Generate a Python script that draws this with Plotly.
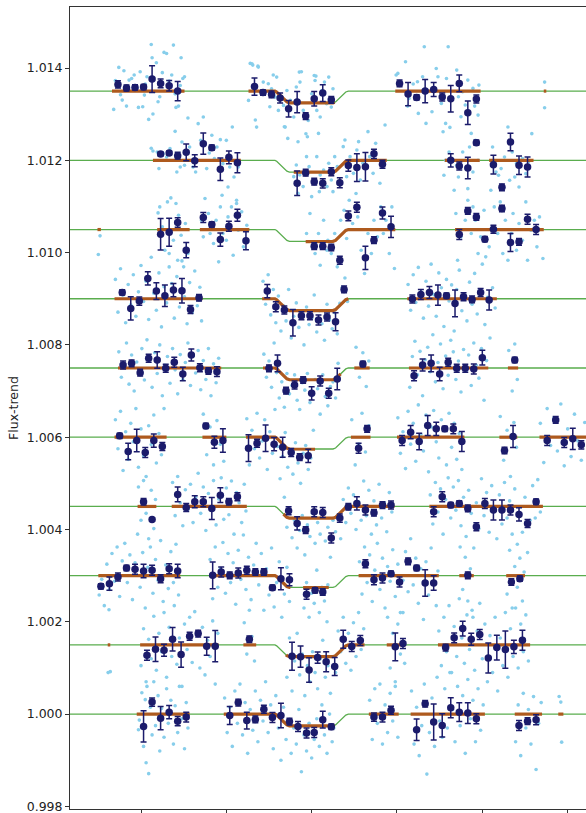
import numpy as np
import plotly.graph_objects as go

# Stacked transit light curves: each epoch is shifted by a constant flux offset.
# Times are hours from mid-transit; flux values are ppm relative to each epoch's baseline.

BASELINES = [1.0135, 1.0120, 1.0105, 1.0090, 1.0075, 1.0060, 1.0045, 1.0030, 1.0015, 1.0000]

# Transit model (ppm) sampled at its vertices
MODEL_T = [-3.0, -0.43, -0.41, -0.29, -0.26, 0.0, 0.25, 0.28, 0.40, 0.43, 3.4]
MODEL_PPM = [0, 0, -20, -235, -255, -262, -255, -235, -20, 0, 0]

# Binned points: (time, ppm, error ppm)
BINS1 = [(-2.27, 145, 80), (-2.17, 65, 65), (-2.07, 80, 58), (-1.97, 87, 58), (-1.87, 260, 290),
         (-1.77, 166, 94), (-1.67, 116, 116), (-1.57, 0, 210),
         (-0.67, 98, 188), (-0.57, -33, 58), (-0.47, -72, 72), (-0.37, -150, 108), (-0.27, -383, 180),
         (-0.17, -238, 231), (-0.07, -541, 72), (0.03, -166, 159), (0.13, -43, 180), (0.23, -190, 72),
         (1.03, 166, 72), (1.13, -65, 253), (1.23, -137, 58), (1.33, 0, 253), (1.43, 36, 152),
         (1.53, -130, 87), (1.63, -166, 289), (1.73, 166, 180), (1.83, -469, 253), (1.93, -173, 87)]
BINS2 = [(-1.77, 137, 43), (-1.67, 159, 43), (-1.57, 101, 72), (-1.47, 173, 180), (-1.37, -7, 130),
         (-1.27, 361, 231), (-1.17, 274, 58), (-1.07, -195, 245), (-0.97, 65, 137), (-0.87, -51, 217),
         (-0.17, -498, 267), (-0.07, -267, 72), (0.03, -462, 72), (0.13, -498, 100), (0.23, -250, 87),
         (0.33, -488, 108), (0.43, -115, 123), (0.53, -158, 300), (0.63, -140, 310), (0.73, 140, 100),
         (0.83, -85, 87),
         (1.63, 0, 144), (1.73, -123, 87), (1.83, -166, 231), (1.93, 383, 58),
         (2.13, -94, 202), (2.23, -585, 72), (2.33, 397, 188), (2.43, -108, 202), (2.53, -144, 217)]
BINS3 = [(-1.77, -101, 340), (-1.67, -58, 303), (-1.57, 152, 101), (-1.47, -448, 166),
         (-1.27, 260, 108), (-1.17, 108, 58), (-1.07, -217, 144), (-0.97, 72, 108), (-0.87, 310, 130),
         (-0.77, -245, 195),
         (0.03, -361, 72), (0.13, -361, 72), (0.23, -390, 72), (0.33, -664, 87), (0.43, 296, 108),
         (0.53, 484, 108), (0.63, -614, 253), (0.73, -231, 72), (0.83, 361, 130), (0.93, 58, 231),
         (1.73, -108, 108), (1.83, 404, 72), (1.93, 274, 72), (2.03, -209, 58), (2.13, 7, 87),
         (2.23, 455, 72), (2.33, -282, 195), (2.43, -267, 72), (2.53, 224, 108), (2.63, 0, 108)]
BINS4 = [(-2.22, 137, 58), (-2.12, -209, 253), (-2.02, -51, 87), (-1.92, 440, 144), (-1.82, 166, 180),
         (-1.72, 65, 231), (-1.62, 188, 144), (-1.52, 173, 267), (-1.42, -231, 87), (-1.32, 22, 72),
         (-0.52, 166, 144), (-0.42, -173, 108), (-0.32, -245, 87), (-0.22, -520, 289), (-0.12, -368, 87),
         (-0.02, -368, 87), (0.08, -462, 108), (0.18, -397, 87), (0.28, -498, 195), (0.38, 202, 72),
         (1.18, -7, 87), (1.28, 94, 108), (1.38, 137, 130), (1.48, 79, 217), (1.58, 65, 58),
         (1.68, -101, 289), (1.78, 43, 87), (1.88, -14, 72), (1.98, 137, 87), (2.08, -29, 217)]
BINS5 = [(-2.21, 65, 87), (-2.11, 101, 72), (-2.01, -101, 72), (-1.91, 209, 87), (-1.81, 173, 180),
         (-1.71, -7, 87), (-1.61, 123, 108), (-1.51, -130, 144), (-1.41, 282, 130), (-1.31, 7, 87),
         (-1.21, -65, 72), (-1.11, -79, 108),
         (-0.50, -7, 72), (-0.40, 101, 180), (-0.30, -491, 72), (-0.20, -368, 87), (-0.10, -260, 72),
         (0.00, -549, 144), (0.10, -282, 108), (0.20, -549, 108), (0.30, -238, 231),
         (0.60, 87, 58),
         (1.20, -166, 108), (1.30, 65, 130), (1.40, 101, 180), (1.50, -130, 144), (1.60, 123, 87),
         (1.70, -7, 87), (1.80, -7, 87), (1.90, -22, 108), (2.00, 224, 159),
         (2.38, 173, 58)]
BINS6 = [(-2.25, 29, 58), (-2.15, -310, 180), (-2.05, -72, 245), (-1.95, -332, 108), (-1.85, -72, 144),
         (-1.75, -202, 87),
         (-1.24, 245, 58), (-1.14, -108, 130), (-1.04, -72, 253),
         (-0.74, -238, 289), (-0.64, -130, 87), (-0.54, -22, 289), (-0.44, -152, 144), (-0.34, -217, 217),
         (-0.24, -332, 87), (-0.14, -433, 72), (-0.04, -404, 144),
         (0.55, -238, 108), (0.65, 181, 72),
         (1.06, -72, 108), (1.16, 108, 144), (1.26, -94, 180), (1.36, 253, 217), (1.46, 181, 144),
         (1.56, 181, 58), (1.66, 181, 108), (1.76, -94, 217),
         (2.26, -289, 72), (2.36, 14, 238),
         (2.76, -72, 108), (2.86, 375, 72), (2.96, -116, 108), (3.06, -36, 231), (3.16, -166, 87)]
BINS7 = [(-1.97, 101, 72), (-1.87, -282, 36),
         (-1.57, 260, 159), (-1.47, -22, 87), (-1.37, 101, 130), (-1.27, 101, 108), (-1.17, -43, 238),
         (-1.07, 245, 159), (-0.97, 101, 72), (-0.87, 209, 87),
         (-0.27, -94, 87), (-0.17, -368, 144), (-0.07, -513, 72), (0.03, -116, 108), (0.13, -130, 108),
         (0.23, -686, 108), (0.33, -253, 87), (0.43, -7, 72), (0.53, 65, 144), (0.63, -79, 108),
         (0.73, -137, 72), (0.83, 29, 72), (0.93, 29, 87),
         (1.43, -116, 108), (1.53, 209, 108), (1.63, 29, 58), (1.73, 65, 58), (1.83, -43, 72),
         (1.93, -440, 87), (2.03, 65, 108), (2.13, -79, 217), (2.23, -79, 217), (2.33, -79, 108),
         (2.43, -173, 144), (2.53, -368, 87), (2.63, 101, 58)]
BINS8 = [(-2.47, -231, 58), (-2.37, -173, 144), (-2.27, -29, 87), (-2.17, 166, 58), (-2.07, 137, 108),
         (-1.97, 101, 144), (-1.87, 116, 108), (-1.77, -65, 87), (-1.67, 152, 108), (-1.57, 101, 144),
         (-1.16, 7, 289), (-1.06, 79, 108), (-0.96, 7, 72), (-0.86, 58, 108), (-0.76, 116, 87),
         (-0.66, 79, 72), (-0.56, 79, 72), (-0.46, -260, 58), (-0.36, -65, 238), (-0.26, -87, 130),
         (-0.06, -404, 108), (0.04, -318, 58), (0.13, -354, 72),
         (0.63, 260, 87), (0.73, -87, 108), (0.83, -51, 108), (0.93, 43, 58), (1.03, -137, 108),
         (1.13, 310, 72), (1.23, 166, 58), (1.33, -159, 289), (1.43, -159, 159),
         (1.83, 7, 72),
         (2.34, -137, 72), (2.44, -65, 58)]
BINS9 = [(-1.93, -224, 108), (-1.83, -94, 267), (-1.73, -116, 130), (-1.63, 123, 253), (-1.53, -209, 274),
         (-1.43, 188, 87), (-1.33, 245, 72), (-1.23, -29, 195), (-1.13, -29, 339),
         (-0.73, 123, 72),
         (-0.23, -248, 303), (-0.13, -255, 231), (-0.03, -545, 267), (0.07, -275, 123), (0.17, -365, 217),
         (0.27, -469, 195), (0.37, 123, 195), (0.47, -36, 108), (0.57, 94, 108),
         (0.98, -43, 303), (1.07, 29, 108),
         (1.57, -58, 72), (1.67, 152, 108), (1.77, 354, 159), (1.87, 123, 130), (1.97, 224, 108),
         (2.07, -282, 325), (2.17, -58, 267), (2.27, -101, 404), (2.37, -43, 144), (2.47, 101, 217)]
BINS10 = [(-1.97, -267, 339), (-1.87, 260, 87), (-1.77, -87, 253), (-1.67, 43, 144), (-1.57, -152, 101),
          (-1.47, -65, 108),
          (-0.96, -30, 195), (-0.86, 250, 72), (-0.76, -140, 180), (-0.66, -115, 72), (-0.56, 105, 87),
          (-0.46, -75, 108), (-0.36, -30, 267), (-0.26, -162, 72), (-0.16, -270, 108), (-0.06, -410, 108),
          (0.03, -400, 108), (0.13, -120, 180), (0.23, -274, 58),
          (0.73, -65, 87), (0.83, -65, 108), (0.93, 85, 87),
          (1.23, -339, 231), (1.33, 224, 72), (1.43, -173, 390), (1.53, -245, 253), (1.63, 137, 217),
          (1.73, 43, 202), (1.83, 22, 224), (1.93, -101, 108),
          (2.43, -245, 108), (2.53, -152, 72), (2.63, -123, 108)]

# Time spans covered by data (model overplotted there)
SEGS1 = [(-2.34, -1.49), (-0.74, 0.27), (0.98, 1.98), (2.72, 2.75)]
SEGS2 = [(-1.86, -0.83), (-0.21, 0.88), (1.56, 1.97), (2.08, 2.60)]
SEGS3 = [(-2.51, -2.47), (-1.81, -1.43), (-1.31, -0.73), (-0.07, 0.98), (1.68, 2.72)]
SEGS4 = [(-2.31, -1.28), (-0.58, 0.43), (1.12, 2.17)]
SEGS5 = [(-2.27, -1.06), (-0.57, 0.34), (0.50, 0.68), (1.14, 2.07), (2.30, 2.42)]
SEGS6 = [(-2.31, -1.70), (-1.28, -1.00), (-0.77, 0.04), (0.46, 0.69), (1.00, 1.79), (2.20, 2.41), (2.67, 3.30)]
SEGS7 = [(-2.04, -1.82), (-1.64, -0.76), (-0.33, 0.97), (1.38, 2.71)]
SEGS8 = [(-2.50, -1.54), (-1.20, -0.25), (-0.10, 0.20), (0.55, 1.49), (1.73, 1.90), (2.28, 2.50)]
SEGS9 = [(-2.39, -2.36), (-2.01, -1.09), (-0.80, -0.65), (-0.30, 0.62), (0.88, 1.10), (1.48, 2.56)]
SEGS10 = [(-2.05, -1.43), (-1.03, 0.27), (0.67, 1.02), (1.16, 2.03), (2.38, 2.70), (2.89, 2.95)]

# Unbinned measurements: (time, ppm)
DOTS1 = [(-2.32, -397), (-2.30, 230), (-2.26, 513), (-2.24, -80), (-2.22, -195), (-2.20, 440), (-2.17, -325),
         (-2.14, 238), (-2.11, 274), (-2.08, 347), (-2.05, 60), (-2.03, -354), (-2.01, 419), (-1.98, -339),
         (-1.96, -87), (-1.95, 150), (-1.93, 310), (-1.91, -614), (-1.88, 1011), (-1.87, 722), (-1.86, -498),
         (-1.84, -10), (-1.82, 614), (-1.80, -231), (-1.78, -123), (-1.75, 400), (-1.73, 838), (-1.70, 816),
         (-1.67, 217), (-1.64, 347), (-1.62, 996), (-1.60, -60), (-1.59, -354), (-1.56, -325), (-1.54, 120),
         (-1.53, 722), (-1.51, 274), (-1.49, 310),
         (-0.74, -202), (-0.72, 600), (-0.70, 592), (-0.69, 563), (-0.66, -628), (-0.645, -780), (-0.63, 540),
         (-0.625, 520), (-0.567, 195), (-0.508, 159), (-0.49, -340), (-0.47, 50), (-0.45, 347), (-0.43, -130),
         (-0.41, 303), (-0.39, -419), (-0.33, -310), (-0.32, -773), (-0.31, -780), (-0.29, 14), (-0.28, -1025),
         (-0.25, -202), (-0.21, -563), (-0.18, 87), (-0.16, -1097), (-0.145, 411), (-0.137, 195), (-0.12, 419),
         (-0.098, -419), (-0.067, -924), (-0.05, -989), (-0.04, -635), (0.0, -58), (0.03, 339), (0.04, 231),
         (0.05, 325), (0.06, -419), (0.08, -917), (0.10, -563), (0.12, 14), (0.15, 195), (0.175, -274),
         (0.20, 303), (0.23, -347), (0.25, 50),
         (0.99, 347), (1.01, 383), (1.10, 635), (1.125, -325), (1.14, -159), (1.19, 152), (1.24, 202),
         (1.25, -484), (1.30, 310), (1.32, 960), (1.34, -700), (1.41, -448), (1.46, 491), (1.48, 310),
         (1.52, -267), (1.54, -880), (1.57, -700), (1.58, 274), (1.60, 960), (1.62, -787), (1.65, -159),
         (1.70, 455), (1.72, -123), (1.75, -556), (1.77, -14), (1.80, -303), (1.83, 238), (1.87, -917),
         (1.89, 58), (1.91, -325), (1.95, -520), (1.96, 130),
         (2.73, 195), (2.73, -361)]
DOTS2 = [(-1.88, 260), (-1.86, 202), (-1.81, 180), (-1.79, -180), (-1.74, 144), (-1.70, 72), (-1.66, 253),
         (-1.60, 628), (-1.58, -253), (-1.54, -144), (-1.52, 397), (-1.49, -108), (-1.45, 917), (-1.43, 289),
         (-1.39, -144), (-1.36, -253), (-1.33, 794), (-1.30, 433), (-1.27, 939), (-1.23, -180), (-1.20, 159),
         (-1.17, 542), (-1.14, 36), (-1.11, 289), (-1.07, 448), (-1.05, -758), (-1.04, -72), (-1.00, 433),
         (-0.98, -578), (-0.96, -144), (-0.93, 722), (-0.91, -361), (-0.88, -866), (-0.86, -144),
         (-0.21, -354), (-0.18, -101), (-0.16, -715), (-0.14, -318), (-0.10, -570), (-0.06, 79), (-0.03, -137),
         (0.0, -787), (0.04, -498), (0.06, 79), (0.09, -679), (0.10, -318), (0.14, -209), (0.18, -570),
         (0.20, -65), (0.23, -426), (0.25, -679), (0.27, 79), (0.30, -137), (0.33, -534), (0.37, 296),
         (0.39, 440), (0.41, -354), (0.45, 79), (0.49, -282), (0.53, 224), (0.55, 404), (0.57, -426),
         (0.60, -65), (0.66, 621), (0.68, 79), (0.72, -282), (0.75, 368), (0.80, -498), (0.83, -137), (0.86, 765),
         (1.55, -325), (1.57, 0), (1.61, 180), (1.67, -650), (1.70, -108), (1.72, -361), (1.77, 180),
         (1.80, 0), (1.83, -614), (1.85, 289), (1.89, -253), (1.92, 433), (1.95, 0),
         (2.10, -650), (2.12, 289), (2.16, -253), (2.19, -325), (2.22, -180), (2.26, 72), (2.30, 722),
         (2.32, -433), (2.35, 180), (2.38, -361), (2.40, -72), (2.43, -578), (2.47, 36), (2.51, -289),
         (2.54, -36), (2.58, 578)]
DOTS3 = [(-2.48, -137), (-2.50, -541),
         (-1.80, 361), (-1.78, 491), (-1.75, 58), (-1.72, -448), (-1.69, 599), (-1.67, -520), (-1.65, 686),
         (-1.62, -231), (-1.59, 563), (-1.57, -664), (-1.56, 310), (-1.53, -123), (-1.50, -809), (-1.48, 130),
         (-1.45, -520),
         (-1.29, 202), (-1.27, -159), (-1.25, 671), (-1.21, 346), (-1.19, -87), (-1.15, -303), (-1.12, 202),
         (-1.09, -700), (-1.07, 491), (-1.04, -87), (-1.00, -231), (-0.98, 274), (-0.94, 491), (-0.92, -556),
         (-0.88, 563), (-0.86, -14), (-0.82, 383), (-0.80, -375), (-0.76, 94),
         (-0.06, -87), (-0.02, 346), (0.04, -520), (0.08, -87), (0.10, -773), (0.14, 202), (0.18, -448),
         (0.19, -231), (0.23, -520), (0.27, -87), (0.30, -809), (0.34, 202), (0.38, 419), (0.41, -195),
         (0.44, 635), (0.48, 130), (0.52, 780), (0.54, 274), (0.58, -448), (0.62, -953), (0.66, -87),
         (0.70, -520), (0.73, 202), (0.77, -159), (0.81, 491), (0.84, -87), (0.87, 202), (0.91, -520),
         (0.94, 491), (0.97, -845),
         (1.69, 346), (1.71, -664), (1.75, -159), (1.80, 202), (1.83, 635), (1.87, -87), (1.89, 491),
         (1.92, 202), (1.95, -520), (1.98, -159), (2.02, 419), (2.04, -592), (2.08, -375), (2.12, 58),
         (2.14, 491), (2.18, -87), (2.21, 599), (2.24, -520), (2.27, 202), (2.30, -664), (2.34, -87),
         (2.36, 346), (2.40, -448), (2.43, 130), (2.47, -231), (2.51, 599), (2.53, -664), (2.57, -14),
         (2.61, 202), (2.64, -375), (2.67, 274), (2.71, -628)]
DOTS4 = [(-2.30, 420), (-2.27, -290), (-2.24, 650), (-2.21, 80), (-2.18, -520), (-2.15, 310), (-2.12, -130),
         (-2.09, 520), (-2.06, -380), (-2.03, 150), (-2.00, 720), (-1.97, -60), (-1.94, 380), (-1.91, -450),
         (-1.88, 900), (-1.85, 120), (-1.82, -250), (-1.79, 560), (-1.76, -610), (-1.73, 260), (-1.70, -90),
         (-1.67, 690), (-1.64, 330), (-1.61, -420), (-1.58, 480), (-1.55, -180), (-1.52, 820), (-1.49, 40),
         (-1.46, -540), (-1.43, 350), (-1.40, -300), (-1.37, 600), (-1.34, -150), (-1.31, 250), (-1.29, -480),
         (-0.57, 380), (-0.54, -120), (-0.51, 520), (-0.48, -350), (-0.45, 200), (-0.42, -520), (-0.39, 60),
         (-0.36, -700), (-0.33, -150), (-0.30, -480), (-0.27, 200), (-0.24, -850), (-0.21, -380), (-0.18, -90),
         (-0.15, -620), (-0.12, -300), (-0.09, -1000), (-0.06, -180), (-0.03, -560), (0.00, -420), (0.03, 80),
         (0.06, -720), (0.09, -260), (0.12, -540), (0.15, -900), (0.18, -120), (0.21, -460), (0.24, -650),
         (0.27, -300), (0.30, -760), (0.33, -100), (0.36, 250), (0.39, 450), (0.42, -60),
         (1.13, 310), (1.16, -250), (1.19, 520), (1.22, -80), (1.25, 680), (1.28, 150), (1.31, -420),
         (1.34, 380), (1.37, -160), (1.40, 750), (1.43, 90), (1.46, -380), (1.49, 560), (1.52, 240),
         (1.55, -600), (1.58, 420), (1.61, -50), (1.64, 300), (1.67, -700), (1.70, 200), (1.73, 620),
         (1.76, -260), (1.79, 80), (1.82, -480), (1.85, 360), (1.88, -120), (1.91, 550), (1.94, -330),
         (1.97, 180), (2.00, 750), (2.03, -560), (2.06, 30), (2.09, -850), (2.12, 240), (2.15, -200)]
DOTS5 = [(-2.26, 350), (-2.23, -200), (-2.20, 60), (-2.17, 540), (-2.14, -350), (-2.11, 280), (-2.08, -500),
         (-2.05, 130), (-2.02, -80), (-1.99, 420), (-1.96, -260), (-1.93, 610), (-1.90, 180), (-1.87, -420),
         (-1.84, 330), (-1.81, -120), (-1.78, 500), (-1.75, -600), (-1.72, 60), (-1.69, 250), (-1.66, -330),
         (-1.63, 420), (-1.60, -40), (-1.57, -560), (-1.54, 290), (-1.51, -250), (-1.48, 120), (-1.45, 540),
         (-1.42, -380), (-1.39, 260), (-1.36, -110), (-1.33, 380), (-1.30, -470), (-1.27, 160), (-1.24, -250),
         (-1.21, 420), (-1.18, -600), (-1.15, 90), (-1.12, -320), (-1.09, 210),
         (-0.56, 300), (-0.53, -200), (-0.50, 150), (-0.47, -420), (-0.44, 540), (-0.41, -100), (-0.38, -650),
         (-0.35, -300), (-0.32, -850), (-0.29, -120), (-0.26, -560), (-0.23, -380), (-0.20, -150), (-0.17, -700),
         (-0.14, -900), (-0.11, -320), (-0.08, -480), (-0.05, -120), (-0.02, -750), (0.01, -580), (0.04, -250),
         (0.07, -450), (0.10, -1000), (0.13, -150), (0.16, -620), (0.19, -820), (0.22, -400), (0.25, -300),
         (0.28, -650), (0.31, 100),
         (0.52, 450), (0.56, -200), (0.60, 330), (0.64, -400), (0.67, 150),
         (1.15, -420), (1.18, 250), (1.21, 580), (1.24, -150), (1.27, 360), (1.30, -600), (1.33, 180),
         (1.36, 450), (1.39, -80), (1.42, 720), (1.45, -300), (1.48, 120), (1.51, 520), (1.54, -450),
         (1.57, 260), (1.60, -160), (1.63, 600), (1.66, 350), (1.69, -250), (1.72, 150), (1.75, -520),
         (1.78, 400), (1.81, -60), (1.84, 280), (1.87, -380), (1.90, 540), (1.93, 60), (1.96, -220),
         (1.99, 420), (2.02, -700), (2.05, 160),
         (2.31, 380), (2.35, -500), (2.38, 520), (2.41, -250)]
DOTS6 = [(-2.30, 380), (-2.27, -250), (-2.24, 560), (-2.21, -720), (-2.18, 120), (-2.15, -480), (-2.12, 300),
         (-2.09, -100), (-2.06, 620), (-2.03, -650), (-2.00, 180), (-1.97, -400), (-1.94, -850), (-1.91, 250),
         (-1.88, -160), (-1.85, 480), (-1.82, -560), (-1.79, 80), (-1.76, -380), (-1.73, 620),
         (-1.27, 500), (-1.23, -380), (-1.19, 220), (-1.15, -600), (-1.11, 360), (-1.07, -150), (-1.03, -520),
         (-0.76, 400), (-0.73, -600), (-0.70, 150), (-0.67, -250), (-0.64, 520), (-0.61, -450), (-0.58, -80),
         (-0.55, 380), (-0.52, -700), (-0.49, 120), (-0.46, -350), (-0.43, 600), (-0.40, -200), (-0.37, -900),
         (-0.34, -420), (-0.31, 100), (-0.28, -650), (-0.25, -300), (-0.22, -800), (-0.19, -120), (-0.16, -560),
         (-0.13, -1000), (-0.10, -350), (-0.07, -180), (-0.04, -700), (-0.01, -450), (0.02, 150),
         (0.47, 380), (0.51, -600), (0.55, -150), (0.59, 520), (0.63, -320), (0.67, 250),
         (1.01, 420), (1.04, -350), (1.07, 120), (1.10, -680), (1.13, 560), (1.16, -150), (1.19, 300),
         (1.22, -520), (1.25, 700), (1.28, 60), (1.31, -300), (1.34, 480), (1.37, -750), (1.40, 220),
         (1.43, 580), (1.46, -100), (1.49, -450), (1.52, 380), (1.55, 150), (1.58, -600), (1.61, 520),
         (1.64, -220), (1.67, 300), (1.70, -480), (1.73, 80), (1.76, -700),
         (2.21, 450), (2.25, -500), (2.29, 150), (2.33, -850), (2.37, 320), (2.40, -220),
         (2.68, 300), (2.72, -550), (2.76, 620), (2.80, -180), (2.84, 420), (2.88, -300), (2.92, 720),
         (2.96, -620), (3.00, 180), (3.04, -420), (3.08, 500), (3.12, -80), (3.16, -500), (3.20, 320)]
DOTS7 = [(-2.03, 420), (-2.00, -300), (-1.97, 560), (-1.94, -150), (-1.91, -700), (-1.88, 350), (-1.85, -480),
         (-1.83, 150),
         (-1.63, 520), (-1.60, -200), (-1.57, 650), (-1.54, 80), (-1.51, -420), (-1.48, 360), (-1.45, -60),
         (-1.42, 480), (-1.39, -350), (-1.36, 200), (-1.33, 720), (-1.30, -150), (-1.27, 420), (-1.24, -520),
         (-1.21, 280), (-1.18, -80), (-1.15, 560), (-1.12, -400), (-1.09, 160), (-1.06, 620), (-1.03, -280),
         (-1.00, 400), (-0.97, -180), (-0.94, 550), (-0.91, -600), (-0.88, 300), (-0.85, 80), (-0.82, -350),
         (-0.79, 480), (-0.77, -100),
         (-0.32, 200), (-0.29, -450), (-0.26, -120), (-0.23, -680), (-0.20, -300), (-0.17, -900), (-0.14, -520),
         (-0.11, -200), (-0.08, -1050), (-0.05, -400), (-0.02, -650), (0.01, -150), (0.04, -800), (0.07, -350),
         (0.10, -600), (0.13, -100), (0.16, -750), (0.19, -450), (0.22, -1100), (0.25, -300), (0.28, -550),
         (0.31, -200), (0.34, -700), (0.37, 150), (0.40, -350), (0.43, 400), (0.46, -150), (0.49, 250),
         (0.52, -500), (0.55, 100), (0.58, -300), (0.61, 550), (0.64, -200), (0.67, 350), (0.70, -600),
         (0.73, 120), (0.76, -400), (0.79, 480), (0.82, -250), (0.85, 80), (0.88, -550), (0.91, 300),
         (0.94, -120),
         (1.39, 250), (1.42, -380), (1.45, 520), (1.48, -120), (1.51, 380), (1.54, -600), (1.57, 150),
         (1.60, 620), (1.63, -250), (1.66, 420), (1.69, -80), (1.72, 560), (1.75, -420), (1.78, 200),
         (1.81, -650), (1.84, 350), (1.87, -150), (1.90, -900), (1.93, 80), (1.96, -480), (1.99, 600),
         (2.02, -200), (2.05, 300), (2.08, -560), (2.11, 450), (2.14, -100), (2.17, -700), (2.20, 250),
         (2.23, -380), (2.26, 520), (2.29, -250), (2.32, 120), (2.35, -600), (2.38, 380), (2.41, -820),
         (2.44, -150), (2.47, -560), (2.50, 200), (2.53, -1000), (2.56, -300), (2.59, 450), (2.62, -250),
         (2.65, 580), (2.68, -120)]
DOTS8 = [(-2.49, -420), (-2.46, -80), (-2.43, -650), (-2.40, 250), (-2.37, -300), (-2.34, 480), (-2.31, -120),
         (-2.28, 620), (-2.25, -450), (-2.22, 320), (-2.19, 700), (-2.16, -150), (-2.13, 450), (-2.10, -520),
         (-2.07, 280), (-2.04, 900), (-2.01, -250), (-1.98, 500), (-1.95, -700), (-1.92, 180), (-1.89, 620),
         (-1.86, -380), (-1.83, 350), (-1.80, -100), (-1.77, 760), (-1.74, -560), (-1.71, 230), (-1.68, -280),
         (-1.65, 520), (-1.62, -150), (-1.59, 680), (-1.56, -420),
         (-1.19, 350), (-1.16, -500), (-1.13, 620), (-1.10, -250), (-1.07, 150), (-1.04, 720), (-1.01, -380),
         (-0.98, 480), (-0.95, -150), (-0.92, 280), (-0.89, -620), (-0.86, 550), (-0.83, -80), (-0.80, 880),
         (-0.77, -300), (-0.74, 400), (-0.71, -520), (-0.68, 230), (-0.65, 700), (-0.62, -200), (-0.59, 480),
         (-0.56, -750), (-0.53, 150), (-0.50, -420), (-0.47, 600), (-0.44, -680), (-0.41, -150), (-0.38, 300),
         (-0.35, -900), (-0.32, -400), (-0.29, 180), (-0.26, -560),
         (-0.09, -700), (-0.06, -150), (-0.03, -900), (0.00, -380), (0.03, -600), (0.06, 120), (0.09, -800),
         (0.12, -250), (0.15, -550), (0.18, -1000), (0.19, -200),
         (0.56, 300), (0.59, -400), (0.62, 620), (0.65, -150), (0.68, 450), (0.71, -560), (0.74, 120),
         (0.77, 700), (0.80, -300), (0.83, 380), (0.86, -700), (0.89, 200), (0.92, -120), (0.95, 560),
         (0.98, -450), (1.01, 250), (1.04, -800), (1.07, -100), (1.10, 520), (1.13, -350), (1.16, 800),
         (1.19, -200), (1.22, 380), (1.25, -600), (1.28, 150), (1.31, -950), (1.34, 300), (1.37, -420),
         (1.40, 600), (1.43, -180), (1.46, -650), (1.48, 100),
         (1.74, 620), (1.77, -300), (1.80, 400), (1.83, -550), (1.86, 150), (1.89, -900),
         (2.29, -400), (2.32, 550), (2.35, -700), (2.38, 200), (2.41, -250), (2.44, 380), (2.47, -550),
         (2.49, 80)]
DOTS9 = [(-2.375, 760), (-2.36, -580), (-2.385, -600),
         (-2.00, -450), (-1.97, 350), (-1.94, -800), (-1.91, 120), (-1.88, -300), (-1.85, 620), (-1.82, -550),
         (-1.79, 250), (-1.76, -150), (-1.73, 700), (-1.70, -700), (-1.67, 380), (-1.64, -250), (-1.61, 850),
         (-1.58, -420), (-1.55, 150), (-1.52, -900), (-1.49, 450), (-1.46, -100), (-1.43, 600), (-1.40, -380),
         (-1.37, 720), (-1.34, 200), (-1.31, -500), (-1.28, 380), (-1.25, -650), (-1.22, 100), (-1.19, -250),
         (-1.16, 520), (-1.13, -850), (-1.10, 250),
         (-0.79, 480), (-0.76, -200), (-0.73, 750), (-0.70, 180), (-0.67, -350),
         (-0.29, -700), (-0.26, 150), (-0.23, -1000), (-0.20, -350), (-0.17, 250), (-0.14, -650), (-0.11, -200),
         (-0.08, -1100), (-0.05, -450), (-0.02, -800), (0.01, -150), (0.04, -600), (0.07, -950), (0.10, -300),
         (0.13, 100), (0.16, -700), (0.19, -450), (0.22, -1050), (0.25, -250), (0.28, -600), (0.31, 300),
         (0.34, -150), (0.37, 600), (0.40, -400), (0.43, 250), (0.46, -550), (0.49, 480), (0.52, -250),
         (0.55, 700), (0.58, -100), (0.61, 350),
         (0.89, 600), (0.92, -500), (0.95, 250), (0.98, -800), (1.01, 450), (1.04, -200), (1.07, 700),
         (1.09, -400),
         (1.49, 300), (1.52, -450), (1.55, 600), (1.58, -150), (1.61, 850), (1.64, -600), (1.67, 400),
         (1.70, -250), (1.73, 1000), (1.76, 150), (1.79, -400), (1.82, 650), (1.85, -100), (1.88, 750),
         (1.91, -550), (1.94, 300), (1.97, 900), (2.00, -300), (2.03, 450), (2.06, -800), (2.09, 200),
         (2.12, -600), (2.15, 600), (2.18, -1000), (2.21, 150), (2.24, -450), (2.27, 700), (2.30, -700),
         (2.33, 350), (2.36, -250), (2.39, 800), (2.42, -500), (2.45, 450), (2.48, -150), (2.51, 650),
         (2.54, -350)]
DOTS10 = [(-2.03, -338), (-2.02, -130), (-1.99, 462), (-1.97, -700), (-1.95, 313), (-1.94, -1055),
          (-1.93, 600), (-1.91, -1290), (-1.89, 150), (-1.87, -450), (-1.85, 700), (-1.83, -250), (-1.80, 400),
          (-1.78, -800), (-1.76, 120), (-1.73, -500), (-1.70, 550), (-1.68, -200), (-1.65, 300), (-1.62, -650),
          (-1.60, 180), (-1.57, -400), (-1.55, 600), (-1.52, -100), (-1.49, -750), (-1.47, 250), (-1.45, -300),
          (-1.02, 350), (-0.99, -400), (-0.96, 150), (-0.93, -700), (-0.90, 500), (-0.87, -200), (-0.84, 650),
          (-0.81, -450), (-0.78, 250), (-0.75, -850), (-0.72, 100), (-0.69, -350), (-0.66, 500), (-0.63, -600),
          (-0.60, 300), (-0.57, -150), (-0.54, 700), (-0.51, -400), (-0.48, 200), (-0.45, -750), (-0.42, 400),
          (-0.39, -300), (-0.36, -1000), (-0.33, 150), (-0.30, -550), (-0.27, -150), (-0.24, -850),
          (-0.21, -300), (-0.18, -650), (-0.15, 100), (-0.12, -1250), (-0.09, -450), (-0.06, -800),
          (-0.03, -200), (0.00, -950), (0.03, -550), (0.06, -100), (0.09, -700), (0.12, 200), (0.15, -450),
          (0.18, -850), (0.21, 0), (0.24, -600), (0.26, -300),
          (0.68, 300), (0.71, -550), (0.74, 550), (0.77, -200), (0.80, 650), (0.83, -650), (0.86, 200),
          (0.89, -400), (0.92, 450), (0.95, -150), (0.98, 600), (1.01, -500),
          (1.17, 500), (1.20, -650), (1.23, 150), (1.26, -900), (1.29, -250), (1.32, 650), (1.35, -1300),
          (1.38, -400), (1.41, 350), (1.44, -700), (1.47, 800), (1.50, -150), (1.53, -500), (1.56, 550),
          (1.59, -300), (1.62, 900), (1.65, 100), (1.68, -600), (1.71, 600), (1.74, -250), (1.77, 400),
          (1.80, -850), (1.83, 750), (1.86, -100), (1.89, 300), (1.92, -600), (1.95, 550), (1.98, -350),
          (2.01, 200),
          (2.39, -600), (2.42, 200), (2.45, -900), (2.48, 450), (2.51, -300), (2.54, 100), (2.57, -650),
          (2.60, 380), (2.63, -1200), (2.66, -200), (2.69, 250),
          (2.90, 383), (2.92, 260), (2.93, -607)]

ROWS = list(zip(BASELINES,
                [BINS1, BINS2, BINS3, BINS4, BINS5, BINS6, BINS7, BINS8, BINS9, BINS10],
                [SEGS1, SEGS2, SEGS3, SEGS4, SEGS5, SEGS6, SEGS7, SEGS8, SEGS9, SEGS10],
                [DOTS1, DOTS2, DOTS3, DOTS4, DOTS5, DOTS6, DOTS7, DOTS8, DOTS9, DOTS10]))

GREEN = "#5aad4e"
BROWN = "#ae5a1e"
NAVY = "#1b1b6b"
SKY = "#87ceeb"

fig = go.Figure()

model_t = np.array(MODEL_T)
model_f = np.array(MODEL_PPM) * 1e-6

# full model per epoch
for base, _, _, _ in ROWS:
    fig.add_trace(go.Scatter(x=model_t, y=base + model_f, mode="lines",
                             line=dict(color=GREEN, width=1.3), hoverinfo="skip"))

# unbinned points
dx, dy = [], []
for base, _, _, dots in ROWS:
    for t, p in dots:
        dx.append(t)
        dy.append(base + p * 1e-6)
fig.add_trace(go.Scatter(x=dx, y=dy, mode="markers",
                         marker=dict(color=SKY, size=3.6, line=dict(width=0))))

# model over the observed spans
ox, oy = [], []
for base, _, segs, _ in ROWS:
    for a, b in segs:
        xs = [a] + [t for t in MODEL_T if a < t < b] + [b]
        ys = np.interp(xs, model_t, model_f) + base
        ox += list(xs) + [None]
        oy += list(ys) + [None]
fig.add_trace(go.Scatter(x=ox, y=oy, mode="lines", connectgaps=False,
                         line=dict(color=BROWN, width=3.2)))

# binned points with errors
bx, by, be = [], [], []
for base, bins, _, _ in ROWS:
    for t, p, e in bins:
        bx.append(t)
        by.append(base + p * 1e-6)
        be.append(e * 1e-6)
fig.add_trace(go.Scatter(x=bx, y=by, mode="markers",
                         marker=dict(color=NAVY, size=7.5, line=dict(width=0)),
                         error_y=dict(type="data", array=be, visible=True,
                                      color=NAVY, thickness=1.5, width=3)))

FONT = dict(family="DejaVu Sans", size=12.5, color="#222222")

fig.update_layout(
    width=586, height=813,
    margin=dict(l=70, r=0, t=7, b=4),
    paper_bgcolor="white", plot_bgcolor="white",
    showlegend=False,
    font=FONT,
    xaxis=dict(range=[-2.832, 3.215], showgrid=False, zeroline=False,
               showline=True, linecolor="#333333", linewidth=1, mirror=True,
               ticks="outside", ticklen=4, tickcolor="#333333",
               tickvals=[-2, -1, 0, 1, 2, 3], showticklabels=False),
    yaxis=dict(range=[0.997944, 1.015322], showgrid=False, zeroline=False,
               showline=True, linecolor="#333333", linewidth=1,
               ticks="outside", ticklen=4, tickcolor="#333333",
               tickvals=[0.998, 1.000, 1.002, 1.004, 1.006, 1.008, 1.010, 1.012, 1.014],
               tickformat=".3f", tickfont=FONT, ticklabeloverflow="allow",
               title=dict(text="Flux-trend", font=FONT, standoff=5)),
)

fig.write_html("out.html")
